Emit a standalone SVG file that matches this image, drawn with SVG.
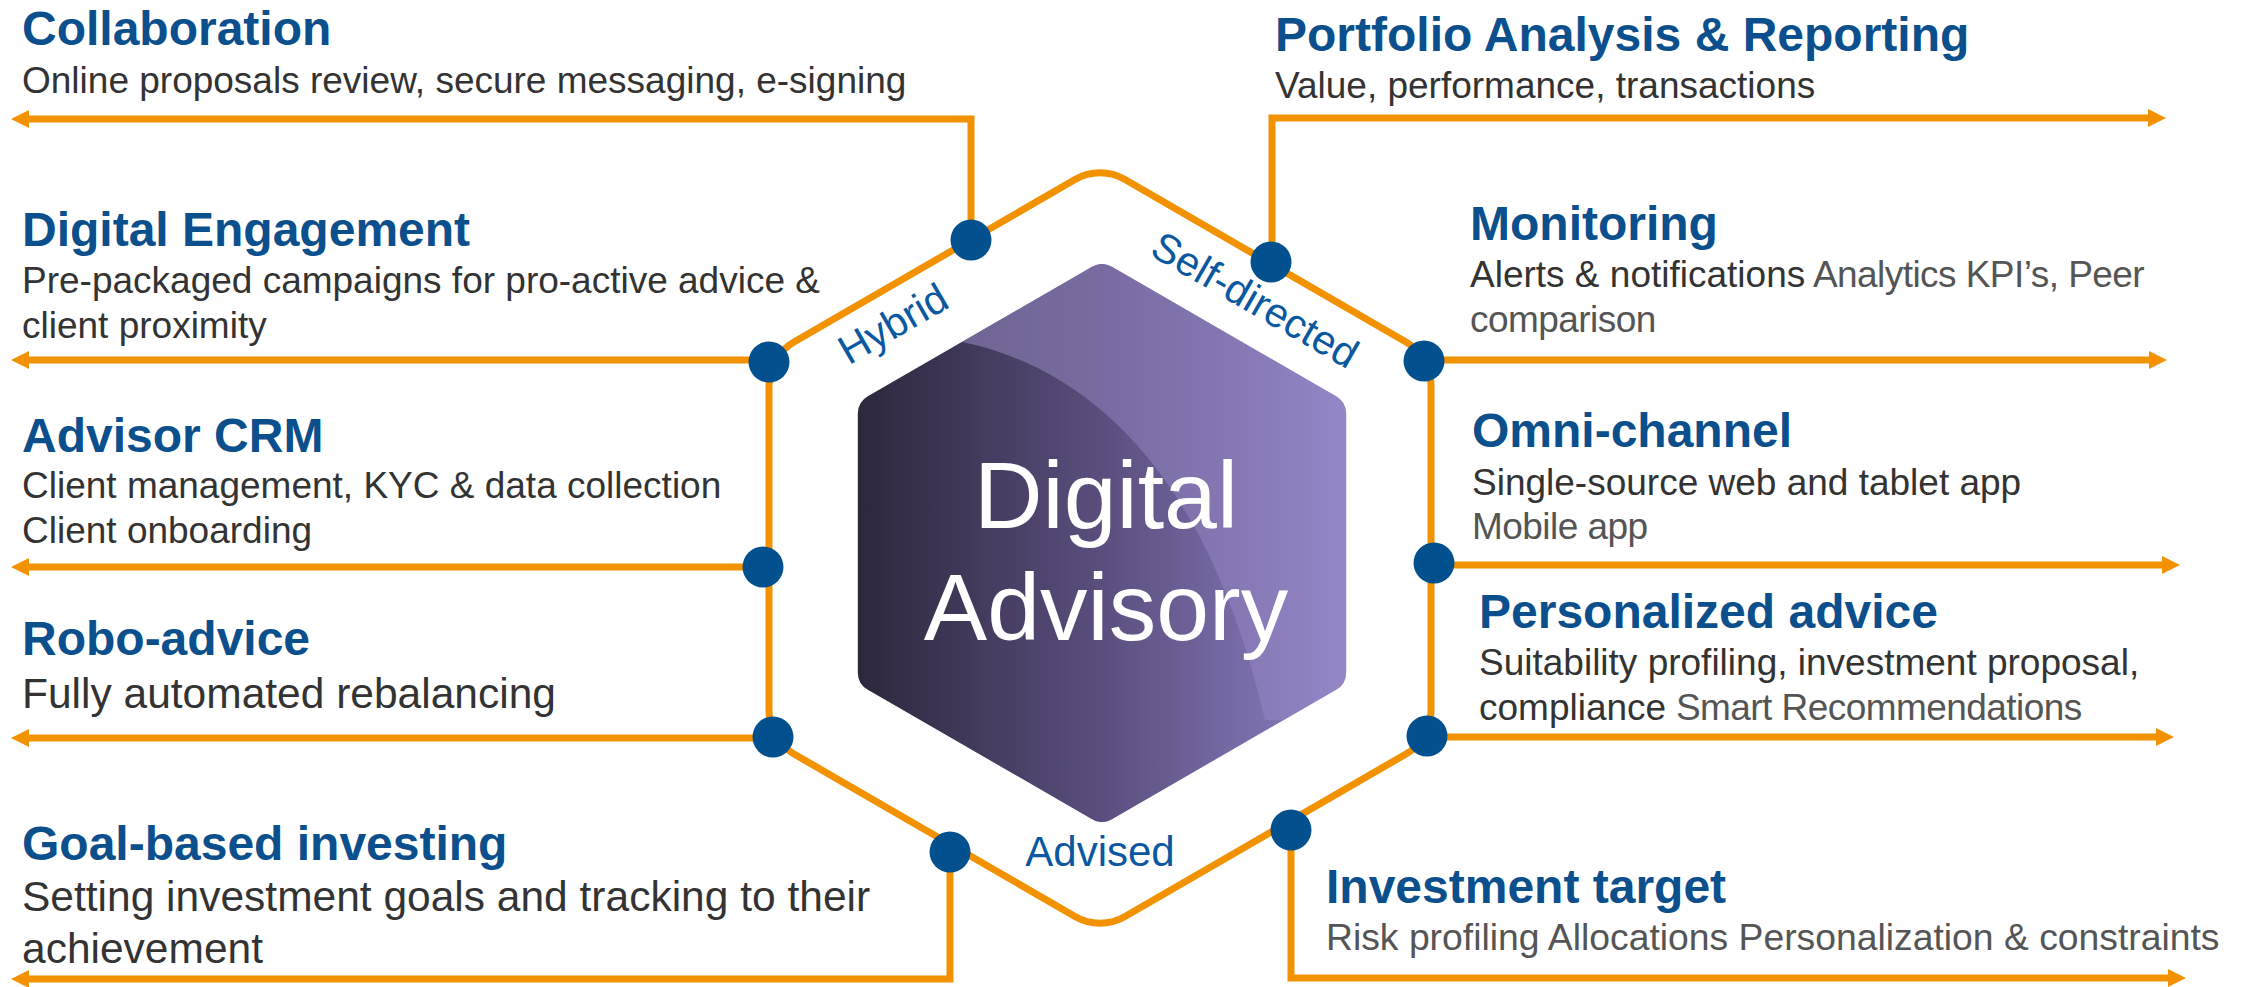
<svg xmlns="http://www.w3.org/2000/svg" width="2247" height="987" viewBox="0 0 2247 987">
<style>
.t{font-family:"Liberation Sans",Arial,sans-serif;font-weight:bold;font-size:48px;fill:#0b4f8c}
.b{font-family:"Liberation Sans",Arial,sans-serif;font-size:37px;fill:#333333}
.bb{font-size:42.5px}
.l{fill:#555555;letter-spacing:-0.55px}
.h{font-family:"Liberation Sans",Arial,sans-serif;font-size:41px;fill:#0a58a0}
.dot{fill:#03508f}
.ring{fill:none;stroke:#f39200;stroke-width:7;stroke-linejoin:round}
.conn{fill:none;stroke:#f39200;stroke-width:7}
.ctr{font-family:"Liberation Sans",Arial,sans-serif;font-size:95px;fill:#ffffff;text-anchor:middle}
</style>
<defs>
<marker id="arr" viewBox="0 0 18 18" refX="1" refY="9" markerWidth="18" markerHeight="18" markerUnits="userSpaceOnUse" orient="auto">
<path d="M0,0 L18,9 L0,18 Z" fill="#f39200"/>
</marker>
<linearGradient id="hexg" gradientUnits="userSpaceOnUse" x1="857" y1="0" x2="1346" y2="0">
<stop offset="0" stop-color="#2c273b"/>
<stop offset="0.5" stop-color="#5b4e7e"/>
<stop offset="1" stop-color="#8f80c3"/>
</linearGradient>
<linearGradient id="ovg" gradientUnits="userSpaceOnUse" x1="950" y1="0" x2="1346" y2="0">
<stop offset="0" stop-color="#a898d8" stop-opacity="0.48"/>
<stop offset="1" stop-color="#a898d8" stop-opacity="0.25"/>
</linearGradient>
<clipPath id="hexclip">
<path d="M1092,266.8 A20,20 0 0 1 1112,266.8 L1336.2,396.2 A20,20 0 0 1 1346.2,413.55 L1346.2,672.45 A20,20 0 0 1 1336.2,689.8 L1112,819.2 A20,20 0 0 1 1092,819.2 L867.8,689.8 A20,20 0 0 1 857.8,672.45 L857.8,413.55 A20,20 0 0 1 867.8,396.2 Z"/>
</clipPath>
</defs>
<rect width="2247" height="987" fill="#ffffff"/>

<g id="ring">
<path class="ring" d="M1075,179.5 A50,50 0 0 1 1125,179.5 L1406,342 A50,50 0 0 1 1431,385.4 L1431,710.6 A50,50 0 0 1 1406,754 L1125,916.5 A50,50 0 0 1 1075,916.5 L794,754 A50,50 0 0 1 769,710.6 L769,385.4 A50,50 0 0 1 794,342 Z"/>
</g>

<g id="connectors">
<path class="conn" marker-end="url(#arr)" d="M971,240 V119 H28"/>
<path class="conn" marker-end="url(#arr)" d="M769,360 H28"/>
<path class="conn" marker-end="url(#arr)" d="M763,567 H28"/>
<path class="conn" marker-end="url(#arr)" d="M773,738 H28"/>
<path class="conn" marker-end="url(#arr)" d="M950,852 V979 H28"/>
<path class="conn" marker-end="url(#arr)" d="M1272,262 V118 H2149"/>
<path class="conn" marker-end="url(#arr)" d="M1424,360 H2150"/>
<path class="conn" marker-end="url(#arr)" d="M1434,565 H2163"/>
<path class="conn" marker-end="url(#arr)" d="M1427,737 H2157"/>
<path class="conn" marker-end="url(#arr)" d="M1291,830 V978 H2169"/>
</g>

<g id="center">
<g clip-path="url(#hexclip)">
<rect x="850" y="250" width="510" height="590" fill="url(#hexg)"/>
<path d="M940,338 C1060,355 1200,440 1265,720 L1400,720 L1400,200 L940,200 Z" fill="url(#ovg)"/>
</g>
<text class="ctr" x="1106" y="528">Digital</text>
<text class="ctr" x="1106" y="640">Advisory</text>
</g>

<g id="modes">
<text class="h" text-anchor="middle" transform="translate(900,336) rotate(-30)">Hybrid</text>
<text class="h" text-anchor="middle" transform="translate(1248,312) rotate(30)">Self-directed</text>
<text class="h" text-anchor="middle" x="1100" y="866" style="font-size:42px">Advised</text>
</g>

<g id="collaboration">
<text class="t" x="22" y="45">Collaboration</text>
<text class="b" x="22" y="93">Online proposals review, secure messaging, e-signing</text>
<circle class="dot" cx="971" cy="240" r="20.5"/>
</g>
<g id="digital-engagement">
<text class="t" x="22" y="246">Digital Engagement</text>
<text class="b" x="22" y="293">Pre-packaged campaigns for pro-active advice &amp;</text>
<text class="b" x="22" y="338">client proximity</text>
<circle class="dot" cx="769" cy="362" r="20.5"/>
</g>
<g id="advisor-crm">
<text class="t" x="22" y="452">Advisor CRM</text>
<text class="b" x="22" y="498">Client management, KYC &amp; data collection</text>
<text class="b" x="22" y="543">Client onboarding</text>
<circle class="dot" cx="763" cy="567" r="20.5"/>
</g>
<g id="robo-advice">
<text class="t" x="22" y="655">Robo-advice</text>
<text class="b bb" x="22" y="708">Fully automated rebalancing</text>
<circle class="dot" cx="773" cy="737" r="20.5"/>
</g>
<g id="goal-based-investing">
<text class="t" x="22" y="860">Goal-based investing</text>
<text class="b bb" x="22" y="911">Setting investment goals and tracking to their</text>
<text class="b bb" x="22" y="963">achievement</text>
<circle class="dot" cx="950" cy="852" r="20.5"/>
</g>

<g id="portfolio-analysis">
<text class="t" x="1275" y="51">Portfolio Analysis &amp; Reporting</text>
<text class="b" x="1275" y="98">Value, performance, transactions</text>
<circle class="dot" cx="1271" cy="262" r="20.5"/>
</g>
<g id="monitoring">
<text class="t" x="1470" y="240">Monitoring</text>
<text class="b" x="1470" y="287">Alerts &amp; notifications<tspan class="l"> Analytics KPI’s, Peer</tspan></text>
<text class="b l" x="1470" y="332">comparison</text>
<circle class="dot" cx="1424" cy="361" r="20.5"/>
</g>
<g id="omni-channel">
<text class="t" x="1472" y="447">Omni-channel</text>
<text class="b" x="1472" y="495">Single-source web and tablet app</text>
<text class="b l" x="1472" y="539">Mobile app</text>
<circle class="dot" cx="1434" cy="563" r="20.5"/>
</g>
<g id="personalized-advice">
<text class="t" x="1479" y="628">Personalized advice</text>
<text class="b" x="1479" y="675">Suitability profiling, investment proposal,</text>
<text class="b" x="1479" y="720">compliance<tspan class="l"> Smart Recommendations</tspan></text>
<circle class="dot" cx="1427" cy="736" r="20.5"/>
</g>
<g id="investment-target">
<text class="t" x="1326" y="903">Investment target</text>
<text class="b" x="1326" y="950" style="fill:#555555;font-size:37.3px">Risk profiling Allocations Personalization &amp; constraints</text>
<circle class="dot" cx="1291" cy="830" r="20.5"/>
</g>
</svg>
